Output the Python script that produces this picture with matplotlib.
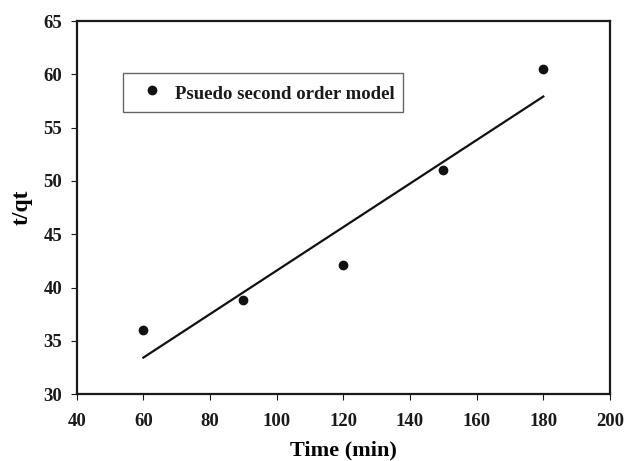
import numpy as np
import matplotlib
matplotlib.use("Agg")
from matplotlib import pyplot as plt

# data
time_min = [60, 90, 120, 150, 180]
t_qt = [36.0, 38.8, 42.1, 51.0, 60.5]
x_ticks = [40, 60, 80, 100, 120, 140, 160, 180, 200]
y_ticks = [30, 35, 40, 45, 50, 55, 60, 65]

plt.rcParams['font.family'] = ['Liberation Serif', 'DejaVu Serif']
plt.rcParams['font.weight'] = 'bold'
plt.rcParams['text.color'] = '#1a1a1a'

fig = plt.figure(figsize=(6.26, 4.61), dpi=100)
ax = fig.add_axes([0.1225, 0.1447, 0.9744 - 0.1225, 0.9544 - 0.1447])

# linear fit through the points
slope, intercept = np.polyfit(time_min, t_qt, 1)
fit_x = np.array([time_min[0], time_min[-1]])
ax.plot(fit_x, slope * fit_x + intercept, color='#111111', lw=1.6)

ax.plot(time_min, t_qt, 'o', color='#111111', ms=6, label='Psuedo second order model')

ax.set_xlim(40, 200)
ax.set_ylim(30, 65)
ax.set_xticks(x_ticks)
ax.set_yticks(y_ticks)
ax.tick_params(direction='out', length=4.3, width=0.8, labelsize=13.5,
               colors='#1a1a1a')
ax.tick_params(axis='x', pad=9)
ax.tick_params(axis='y', pad=6)
for s in ax.spines.values():
    s.set_linewidth(1.6)
    s.set_color('#1a1a1a')

ax.set_xlabel('Time (min)', fontsize=16, fontweight='bold', labelpad=8)
ax.set_ylabel('t/qt', fontsize=17, fontweight='bold', labelpad=8)

leg = ax.legend(loc='upper left', bbox_to_anchor=(0.0874, 0.862), fancybox=False,
                edgecolor='#666666', framealpha=1, fontsize=13.5, handlelength=2.2,
                handleheight=1.5, handletextpad=0.1, borderpad=0.45, borderaxespad=0)
leg.get_frame().set_linewidth(1.0)

fig.savefig('out.png', dpi=100)
